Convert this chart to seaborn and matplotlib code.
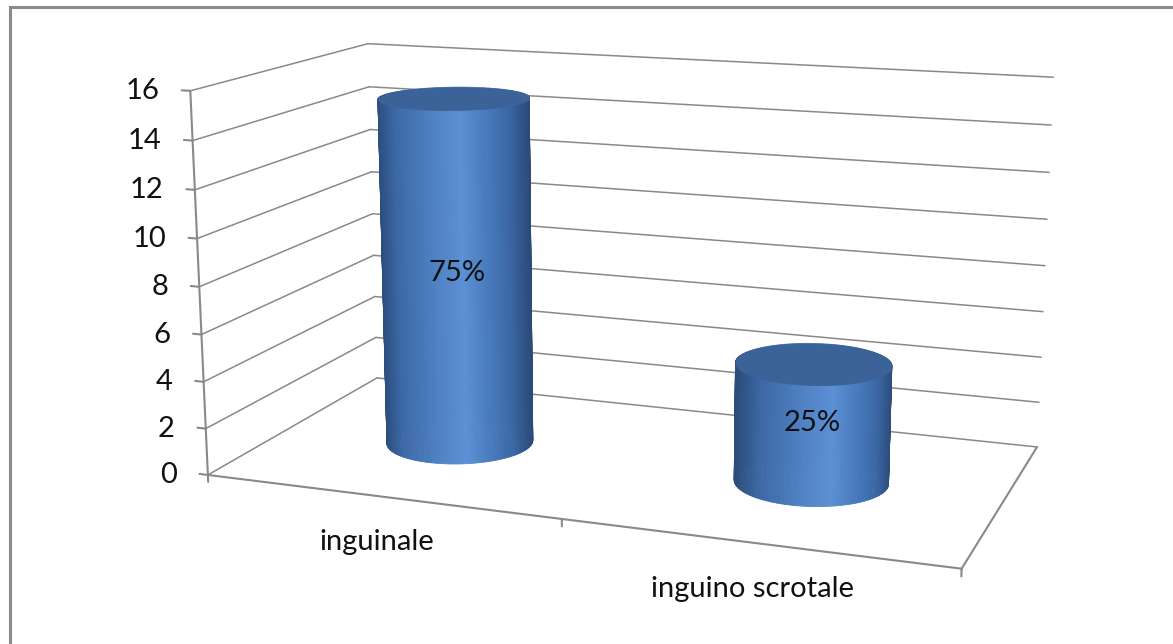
import numpy as np
import matplotlib
matplotlib.use("Agg")
import matplotlib.pyplot as plt
import matplotlib.transforms as mtransforms
import seaborn as sns
from mpl_toolkits.mplot3d.art3d import Poly3DCollection
from matplotlib.colors import LinearSegmentedColormap
from matplotlib.patches import Rectangle

# Data
categories = ["inguinale", "inguino scrotale"]
counts = [15, 5]
shares = ["75%", "25%"]
value_ticks = [0, 2, 4, 6, 8, 10, 12, 14, 16]

sns.set_theme(style="white")
plt.rcParams["font.family"] = ["Lato", "DejaVu Sans"]

GRID = "#898989"
TEXT = "#111111"
CAP = "#3c6398"
FONT = 21

# camera and box of the 3-D scene
ELEV, AZIM, FOCAL = 13.26, -69.88, 0.3166
DEPTH = 0.99
BOX = (2, DEPTH, 1.0155)
ZOOM = 0.6977
RADIUS = 0.2

W, H = 1173, 644
SIDE = 1300
CENTER_X, CENTER_Y = 613.1, 350.4  # axes centre in pixels from lower-left

body_cmap = LinearSegmentedColormap.from_list(
    "cylinder",
    [(0.00, "#2b4c7c"), (0.15, "#3d69a6"), (0.45, "#5386c9"),
     (0.58, "#5b90d4"), (0.72, "#4a7dc0"), (0.88, "#3b67a4"),
     (1.00, "#2b4a78")],
)

fig = plt.figure(figsize=(W / 100, H / 100), dpi=100)
ax = fig.add_axes([(CENTER_X - SIDE / 2) / W, (CENTER_Y - SIDE / 2) / H,
                   SIDE / W, SIDE / H], projection="3d", computed_zorder=False)
ax.set_proj_type("persp", focal_length=FOCAL)
ax.view_init(elev=ELEV, azim=AZIM)
ax.set_axis_off()

n_cat = len(categories)
top = value_ticks[-1]

# label offsets in screen pixels
value_label_tr = mtransforms.offset_copy(ax.transData, fig=fig, x=-31, y=0,
                                         units="dots")
cat_label_tr = mtransforms.offset_copy(ax.transData, fig=fig, x=-3, y=-46,
                                       units="dots")

# back wall and side wall gridlines
for v in value_ticks:
    ax.plot([0, 0], [0, DEPTH], [v, v], color=GRID, lw=1.1, zorder=1)
    ax.plot([0, n_cat], [DEPTH, DEPTH], [v, v], color=GRID, lw=1.1, zorder=1)

# floor outline
ax.plot([0, n_cat], [0, 0], [0, 0], color=GRID, lw=1.5, zorder=2)
ax.plot([n_cat, n_cat], [0, DEPTH], [0, 0], color=GRID, lw=1.5, zorder=2)

# value axis with ticks and labels
ax.plot([0, 0], [0, 0], [0, top], color=GRID, lw=1.5, zorder=2)
for v in value_ticks:
    ax.plot([-0.025, 0.0], [0, 0], [v, v], color=GRID, lw=1.5, zorder=2)
    ax.text(0, 0, v, str(v), ha="right", va="center", fontsize=FONT,
            color=TEXT, zorder=8, transform=value_label_tr)

# category ticks and labels
for i in range(n_cat + 1):
    ax.plot([i, i], [0, 0], [0, -0.3], color=GRID, lw=1.5, zorder=2)
for i, cat in enumerate(categories):
    ax.text(i + 0.5, 0, 0, cat, ha="center", va="center", fontsize=FONT,
            color=TEXT, zorder=8, transform=cat_label_tr)

# cylinders
theta = np.linspace(0, 2 * np.pi, 181)
az = np.radians(AZIM)
screen_right = np.array([-np.sin(az), np.cos(az)])
for i, (val, pct) in enumerate(zip(counts, shares)):
    cx, cy = i + 0.5, DEPTH / 2
    xs = cx + RADIUS * np.cos(theta)
    ys = cy + RADIUS * np.sin(theta)
    quads, cols = [], []
    for k in range(len(theta) - 1):
        quads.append([(xs[k], ys[k], 0), (xs[k + 1], ys[k + 1], 0),
                      (xs[k + 1], ys[k + 1], val), (xs[k], ys[k], val)])
        tm = 0.5 * (theta[k] + theta[k + 1])
        s = np.cos(tm) * screen_right[0] + np.sin(tm) * screen_right[1]
        cols.append(body_cmap((s + 1) / 2))
    side = Poly3DCollection(quads, facecolors=cols, edgecolors=cols,
                            linewidths=0.6, zorder=5)
    ax.add_collection3d(side, autolim=False)
    cap = Poly3DCollection([list(zip(xs, ys, np.full_like(xs, val)))],
                           facecolors=CAP, edgecolors=CAP, linewidths=0.6,
                           zorder=6)
    ax.add_collection3d(cap, autolim=False)
    ax.text(cx, cy, val / 2, pct, ha="center", va="center",
            fontsize=FONT, color=TEXT, zorder=9)

ax.set_xlim(0, n_cat)
ax.set_ylim(0, DEPTH)
ax.set_zlim(0, top)
ax.set_box_aspect(BOX, zoom=ZOOM)

# chart area border
fig.patches.append(Rectangle((9.5 / W, -0.2), 1.5, 1 - 7 / H + 0.2,
                             transform=fig.transFigure, fill=False,
                             edgecolor="#8a8a8a", lw=2.2))

fig.savefig("out.png", dpi=100)
